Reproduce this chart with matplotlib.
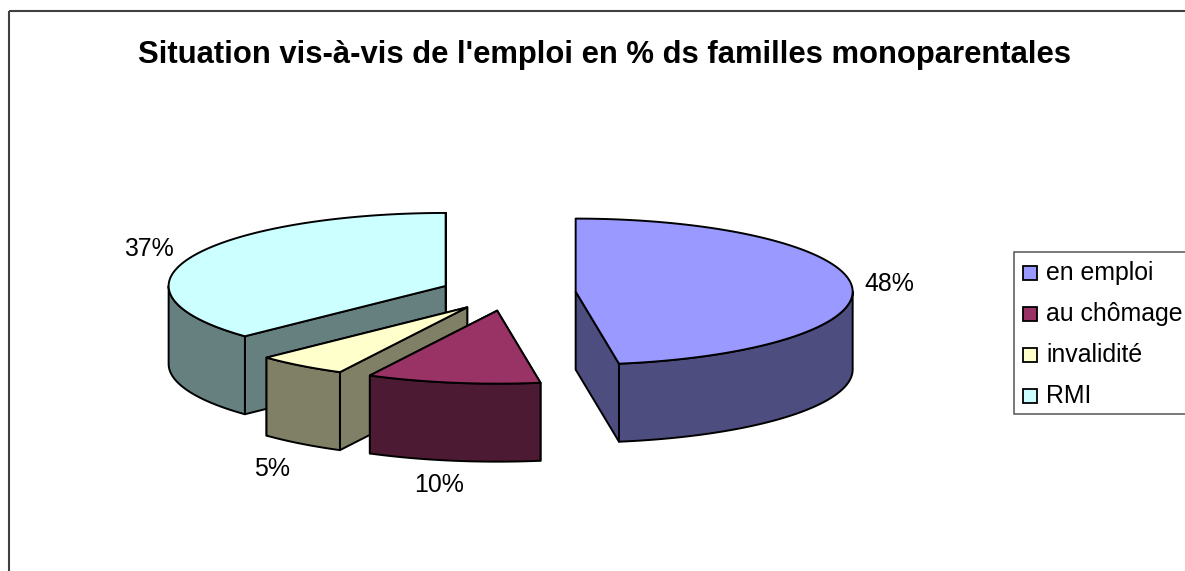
import numpy as np
import matplotlib
matplotlib.use("Agg")
import matplotlib.pyplot as plt
from matplotlib.patches import Polygon, Rectangle

plt.rcParams['font.family'] = ['Liberation Sans', 'DejaVu Sans']

# data
labels = ['en emploi', 'au chômage', 'invalidité', 'RMI']
values = [47.5, 10.1, 5.3, 37.1]
top_colors = ['#9999FF', '#993366', '#FFFFCC', '#CCFFFF']
side_colors = ['#4D4D80', '#4D1A33', '#808066', '#668080']

title = "Situation vis-à-vis de l'emploi en % ds familles monoparentales"

# geometry of the 3d pie, in pixels
cx, cy = 508, 293
rx, ry = 277, 73
depth = 78
explode = 0.245
label_pos = [(889, 284), (439, 485), (272, 469), (149, 249)]

fig = plt.figure(figsize=(11.85, 5.71), dpi=100)
ax = fig.add_axes([0, 0, 1, 1])
ax.set_xlim(0, 1185)
ax.set_ylim(571, 0)
ax.axis('off')

# chart frame, right and bottom fall outside the image
ax.add_patch(Rectangle((9, 11), 1300, 700, fill=False, ec='#404040', lw=1.5, clip_on=True))

ax.text(605, 55, title, fontsize=22.35, fontweight='bold', ha='center', va='center', color='black')

edges = np.cumsum([0] + values) / sum(values) * 2 * np.pi


def rim(x0, y0, angles):
    return np.column_stack([x0 + rx * np.sin(angles), y0 - ry * np.cos(angles)])


# back slices first so the front ones cover them
for i in [3, 2, 1, 0]:
    a0, a1 = edges[i], edges[i + 1]
    mid = (a0 + a1) / 2
    x0 = cx + explode * rx * np.sin(mid)
    y0 = cy - explode * ry * np.cos(mid)
    arc = rim(x0, y0, np.linspace(a0, a1, 120))
    down = np.array([0, depth])
    apex = np.array([x0, y0])

    # the two cut walls, the one further back goes first
    for end in sorted([arc[0], arc[-1]], key=lambda p: p[1]):
        wall = [apex, end, end + down, apex + down]
        ax.add_patch(Polygon(wall, closed=True, fc=side_colors[i], ec='black', lw=1.4, joinstyle='round'))

    # outer side, only the part that faces the viewer
    lo, hi = max(a0, np.pi / 2), min(a1, 3 * np.pi / 2)
    if hi > lo:
        front = rim(x0, y0, np.linspace(lo, hi, 120))
        side = np.vstack([front, (front + down)[::-1]])
        ax.add_patch(Polygon(side, closed=True, fc=side_colors[i], ec='black', lw=1.4, joinstyle='round'))

    ax.add_patch(Polygon(np.vstack([apex, arc]), closed=True, fc=top_colors[i], ec='black', lw=1.4, joinstyle='round'))

    ax.text(label_pos[i][0], label_pos[i][1], '%d%%' % round(values[i]), fontsize=17.9,
            ha='center', va='center', color='black')

# legend
ax.add_patch(Rectangle((1014, 251.5), 300, 162.5, fc='white', ec='#555555', lw=1.1))
legend_y = [273, 314, 355, 396]
for name, col, y in zip(labels, top_colors, legend_y):
    ax.add_patch(Rectangle((1023, y - 7), 14, 14, fc=col, ec='black', lw=1.3))
    ax.text(1046, y, name, fontsize=17.9, ha='left', va='center', color='black')

fig.savefig('out.png', dpi=100)
